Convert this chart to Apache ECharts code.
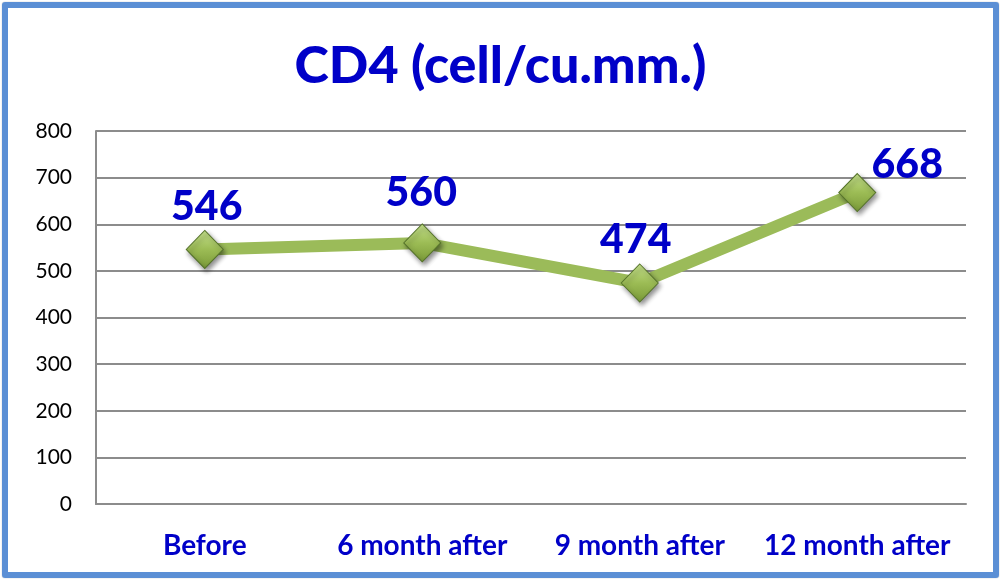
<!DOCTYPE html>
<html>
<head>
<meta charset="utf-8">
<script src="https://cdn.jsdelivr.net/npm/echarts@6/dist/echarts.min.js"></script>
<style>
  html, body { margin: 0; padding: 0; background: #fff; }
  #frame { position: absolute; left: 2px; top: 2px; width: 985px; height: 564px; border: 6px solid #5b8fd5; border-radius: 3px; box-shadow: 0 0 1px #888; }
  #chart { position: absolute; left: 0; top: 0; width: 1001px; height: 581px; }
</style>
</head>
<body>
<div id="frame"></div>
<div id="chart"></div>
<script>
const titleText = 'CD4 (cell/cu.mm.)';
const categories = ['Before', '6 month after', '9 month after', '12 month after'];
const cd4Values = [546, 560, 474, 668];
const yTicks = [0, 100, 200, 300, 400, 500, 600, 700, 800];

const labelOffsets = [[2, 2], [-1, -5], [-4, 2], [50, 17]];

const chart = echarts.init(document.getElementById('chart'), null, { renderer: 'canvas' });
const blue = '#0000c8';
const option = {
  backgroundColor: 'transparent',
  title: {
    text: titleText,
    left: 'center',
    top: 35,
    textStyle: { fontFamily: 'Lato', fontWeight: 900, fontSize: 52, color: blue }
  },
  grid: { left: 96, right: 35, top: 131, bottom: 77, containLabel: false },
  xAxis: {
    type: 'category',
    data: categories,
    boundaryGap: true,
    axisLine: { show: true, lineStyle: { color: '#8c8c8c', width: 2 } },
    axisTick: { show: false },
    axisLabel: { interval: 0, hideOverlap: false, margin: 28, fontFamily: 'Lato', fontWeight: 'bold', fontSize: 28, color: blue }
  },
  yAxis: {
    type: 'value',
    min: yTicks[0],
    max: yTicks[yTicks.length - 1],
    interval: yTicks[1] - yTicks[0],
    axisLine: { show: true, lineStyle: { color: '#8c8c8c', width: 2 } },
    axisTick: { show: false },
    splitLine: { show: true, lineStyle: { color: '#8c8c8c', width: 2 } },
    axisLabel: { margin: 24, fontFamily: 'Lato', fontSize: 21, color: '#000' }
  },
  series: [{
    type: 'line',
    data: cd4Values.map((v, i) => ({ value: v, label: { offset: labelOffsets[i] } })),
    lineStyle: { color: '#9bbb59', width: 12 },
    symbol: 'diamond',
    symbolSize: [37, 38],
    itemStyle: {
      color: new echarts.graphic.LinearGradient(0, 0, 0, 1, [
        { offset: 0, color: '#c6e28d' },
        { offset: 0.5, color: '#9cbc55' },
        { offset: 1, color: '#7a9a38' }
      ]),
      borderColor: '#55732a',
      borderWidth: 1,
      shadowBlur: 5,
      shadowColor: 'rgba(0,0,0,0.45)',
      shadowOffsetX: 2,
      shadowOffsetY: 3
    },
    label: {
      show: true,
      position: 'top',
      distance: 5,
      fontFamily: 'Lato',
      fontWeight: 900,
      fontSize: 41,
      color: blue
    },
    animation: false
  }],
  animation: false
};
chart.setOption(option);
</script>
</body>
</html>
